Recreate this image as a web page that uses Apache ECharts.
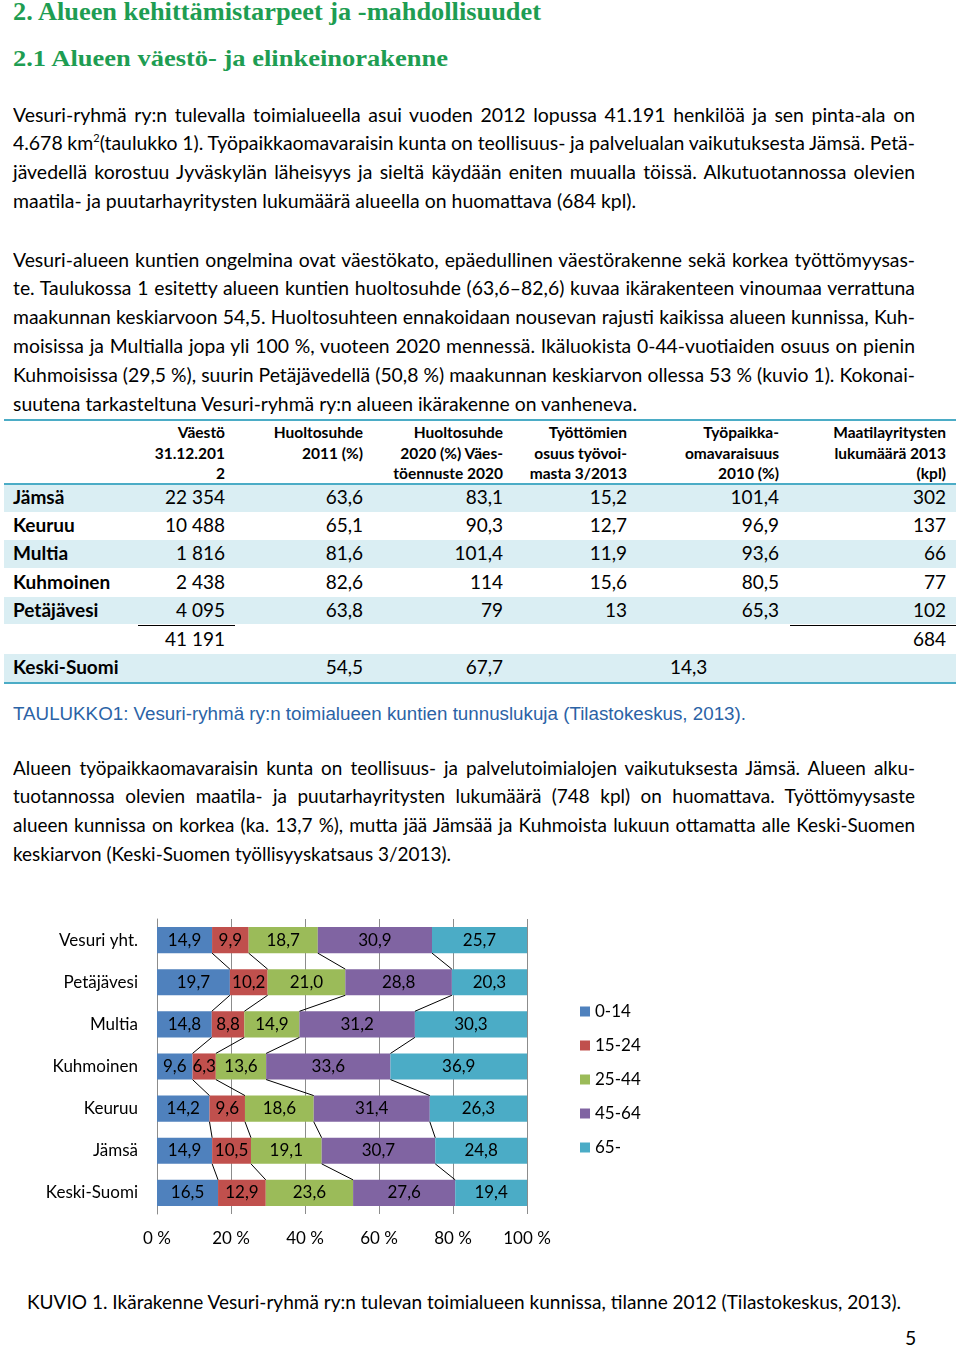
<!DOCTYPE html>
<html><head><meta charset="utf-8">
<script src="https://cdn.jsdelivr.net/npm/echarts@6/dist/echarts.min.js"></script>
<style>
html,body{margin:0;padding:0;background:#fff}
body{width:960px;height:1345px;position:relative;overflow:hidden;font-family:Lato,"Open Sans",sans-serif;color:#000}
.ln{position:absolute;white-space:nowrap;transform-origin:0 50%;font-size:19.4px;line-height:29px;height:29px}
.ln sup{font-size:11px;line-height:0;vertical-align:8px}
.h{position:absolute;white-space:nowrap;transform-origin:0 50%;font-family:"Liberation Serif","DejaVu Serif",serif;font-weight:bold;color:#1e9d52}
.cell{position:absolute;white-space:nowrap;font-size:19px;line-height:28px;height:28px}
.hd{position:absolute;white-space:nowrap;font-size:15.5px;font-weight:bold;line-height:20.5px;text-align:right}
.band{position:absolute;left:4px;width:952px;background:#daeef3}
.rule{position:absolute;background:#4bacc6}
.thin{position:absolute;height:1px;background:#000}
#chart{position:absolute;left:0;top:900px;width:960px;height:370px}
</style></head>
<body>
<div id="chart"></div>
<script>
// ---------- chart data ----------
const categories = ['Vesuri yht.','Petäjävesi','Multia','Kuhmoinen','Keuruu','Jämsä','Keski-Suomi'];
const ageGroups = ['0-14','15-24','25-44','45-64','65-'];
const age0_14  = [14.9, 19.7, 14.8, 9.6, 14.2, 14.9, 16.5];
const age15_24 = [9.9, 10.2, 8.8, 6.3, 9.6, 10.5, 12.9];
const age25_44 = [18.7, 21.0, 14.9, 13.6, 18.6, 19.1, 23.6];
const age45_64 = [30.9, 28.8, 31.2, 33.6, 31.4, 30.7, 27.6];
const age65    = [25.7, 20.3, 30.3, 36.9, 26.3, 24.8, 19.4];
const xTicks = [0, 20, 40, 60, 80, 100];

// ---------- table data ----------
const tableRows = ['Jämsä','Keuruu','Multia','Kuhmoinen','Petäjävesi'];
const vaesto = ['22 354','10 488','1 816','2 438','4 095'];
const huolto2011 = ['63,6','65,1','81,6','82,6','63,8'];
const huolto2020 = ['83,1','90,3','101,4','114','79'];
const tyottomat = ['15,2','12,7','11,9','15,6','13'];
const omavaraisuus = ['101,4','96,9','93,6','80,5','65,3'];
const maatilat = ['302','137','66','77','102'];
const vaestoYht = '41 191';
const maatilatYht = '684';
const keskiSuomiLabel = 'Keski-Suomi';
const keskiSuomi = ['54,5','67,7','14,3'];
const tableHeaders = [
  ['Väestö','31.12.201','2'],
  ['Huoltosuhde','2011 (%)'],
  ['Huoltosuhde','2020 (%) Väes-','töennuste 2020'],
  ['Työttömien','osuus työvoi-','masta 3/2013'],
  ['Työpaikka-','omavaraisuus','2010 (%)'],
  ['Maatilayritysten','lukumäärä 2013','(kpl)']
];

// ---------- text ----------
const heading1 = '2. Alueen kehittämistarpeet ja -mahdollisuudet';
const heading2 = '2.1 Alueen väestö- ja elinkeinorakenne';
const para1 = [
 'Vesuri-ryhmä ry:n tulevalla toimialueella asui vuoden 2012 lopussa 41.191 henkilöä ja sen pinta-ala on',
 '4.678 km<sup>2</sup>(taulukko 1). Työpaikkaomavaraisin kunta on teollisuus- ja palvelualan vaikutuksesta Jämsä. Petä-',
 'jävedellä korostuu Jyväskylän läheisyys ja sieltä käydään eniten muualla töissä. Alkutuotannossa olevien',
 'maatila- ja puutarhayritysten lukumäärä alueella on huomattava (684 kpl).'
];
const para2 = [
 'Vesuri-alueen kuntien ongelmina ovat väestökato, epäedullinen väestörakenne sekä korkea työttömyysas-',
 'te. Taulukossa 1 esitetty alueen kuntien huoltosuhde (63,6–82,6) kuvaa ikärakenteen vinoumaa verrattuna',
 'maakunnan keskiarvoon 54,5. Huoltosuhteen ennakoidaan nousevan rajusti kaikissa alueen kunnissa, Kuh-',
 'moisissa ja Multialla jopa yli 100 %, vuoteen 2020 mennessä. Ikäluokista 0-44-vuotiaiden osuus on pienin',
 'Kuhmoisissa (29,5 %), suurin Petäjävedellä (50,8 %) maakunnan keskiarvon ollessa 53 % (kuvio 1). Kokonai-',
 'suutena tarkasteltuna Vesuri-ryhmä ry:n alueen ikärakenne on vanheneva.'
];
const para3 = [
 'Alueen työpaikkaomavaraisin kunta on teollisuus- ja palvelutoimialojen vaikutuksesta Jämsä. Alueen alku-',
 'tuotannossa olevien maatila- ja puutarhayritysten lukumäärä (748 kpl) on huomattava. Työttömyysaste',
 'alueen kunnissa on korkea (ka. 13,7 %), mutta jää Jämsää ja Kuhmoista lukuun ottamatta alle Keski-Suomen',
 'keskiarvon (Keski-Suomen työllisyyskatsaus 3/2013).'
];
const tableCaption = 'TAULUKKO1: Vesuri-ryhmä ry:n toimialueen kuntien tunnuslukuja (Tilastokeskus, 2013).';
const figCaption = 'KUVIO 1. Ikärakenne Vesuri-ryhmä ry:n tulevan toimialueen kunnissa, tilanne 2012 (Tilastokeskus, 2013).';
const pageNo = '5';

// ---------- layout helpers ----------
function mk(cls, html, x, y) {
  const d = document.createElement('div');
  d.className = cls; d.innerHTML = html;
  d.style.left = x + 'px'; d.style.top = y + 'px';
  document.body.appendChild(d);
  return d;
}
function paragraph(lines, x, firstCy, step, W, lastW) {
  const els = lines.map((t, i) => mk('ln', t, x, firstCy + i * step - 14.5));
  const widths = els.map(e => e.getBoundingClientRect().width);
  const last = els.length - 1;
  const K = lastW / widths[last];
  els.forEach((e, i) => {
    const target = (i === last ? lastW : W);
    const gaps = (e.textContent.match(/ /g) || []).length;
    let k = K;
    let ws = gaps ? (target / k - widths[i]) / gaps : 0;
    if (ws < -1.5) { k = target / (widths[i] - 1.5 * gaps); ws = -1.5; }
    e.style.wordSpacing = ws + 'px';
    e.style.transform = 'scaleX(' + k + ')';
  });
}
function fitText(cls, text, x, cy, W, size, extra) {
  const d = mk(cls, text, x, 0);
  d.style.fontSize = size + 'px';
  d.style.lineHeight = size * 1.3 + 'px';
  if (extra) Object.assign(d.style, extra);
  d.style.top = (cy - size * 0.65) + 'px';
  d.style.transformOrigin = '0 50%';
  const w = d.getBoundingClientRect().width;
  d.style.transform = 'scaleX(' + (W / w) + ')';
  return d;
}

// headings
fitText('h', heading1, 13, 12, 528, 25.5);
fitText('h', heading2, 13, 59, 435, 23);

paragraph(para1, 13, 114, 28.9, 902, 623);
paragraph(para2, 13, 259, 28.9, 902, 624);
paragraph(para3, 13, 767, 28.7, 902, 438);

// ---------- table ----------
const colRight = [225, 363, 503, 627, 779, 946];
const rowCy = [497, 525, 553, 582, 610, 639, 667];
[[483,512],[540,568],[597,624],[654,682]].forEach(b => {
  const d = mk('band', '', 4, b[0]); d.style.height = (b[1] - b[0]) + 'px';
});
[[419,2],[483,2],[682,2]].forEach(r => {
  const d = mk('rule', '', 4, r[0]); d.style.width = '952px'; d.style.height = r[1] + 'px';
});
tableHeaders.forEach((lines, c) => {
  const d = mk('hd', lines.join('<br>'), 0, 422);
  d.style.left = 'auto'; d.style.right = (960 - colRight[c]) + 'px';
});
function cellR(text, c, cy, bold) {
  const d = mk('cell', text, 0, cy - 14);
  d.style.left = 'auto'; d.style.right = (960 - colRight[c]) + 'px';
  if (bold) d.style.fontWeight = 'bold';
}
const cols = [vaesto, huolto2011, huolto2020, tyottomat, omavaraisuus, maatilat];
tableRows.forEach((name, r) => {
  const d = mk('cell', name, 13, rowCy[r] - 14); d.style.fontWeight = 'bold';
  cols.forEach((arr, c) => cellR(arr[r], c, rowCy[r]));
});
cellR(vaestoYht, 0, rowCy[5]);
cellR(maatilatYht, 5, rowCy[5]);
{ const d = mk('cell', keskiSuomiLabel, 13, rowCy[6] - 14); d.style.fontWeight = 'bold'; }
cellR(keskiSuomi[0], 1, rowCy[6]);
cellR(keskiSuomi[1], 2, rowCy[6]);
mk('cell', keskiSuomi[2], 670, rowCy[6] - 14);
{ const a = mk('thin', '', 138, 625); a.style.width = '97px';
  const b = mk('thin', '', 790, 625); b.style.width = '166px'; }

// captions
fitText('ln', tableCaption, 13, 714, 733, 17.5, {fontFamily:'"Liberation Sans",Arial,sans-serif', color:'#2b63a6', height:'auto'});
fitText('ln', figCaption, 27, 1302, 874, 19.4, {height:'auto'});
{ const d = mk('ln', pageNo, 905, 1337 - 14.5); }

// ---------- chart ----------
const ageSeries = [age0_14, age15_24, age25_44, age45_64, age65];
const ageColors = ['#4f81bd', '#c0504d', '#9bbb59', '#8064a2', '#4bacc6'];
const rowSums = categories.map((_, i) => ageSeries.reduce((s, a) => s + a[i], 0));
const norm = ageSeries.map(a => a.map((v, i) => v / rowSums[i] * 100));
const cum = [];
for (let k = 1; k < ageSeries.length; k++) {
  cum.push(categories.map((_, i) => norm.slice(0, k).reduce((s, a) => s + a[i], 0)));
}
const seriesLineData = [];
for (let i = 0; i < categories.length - 1; i++) {
  cum.forEach(c => seriesLineData.push([c[i], i, c[i + 1], i + 1]));
}
const fmt = v => v.toFixed(1).replace('.', ',');
const GAP = 0.38;

const chart = echarts.init(document.getElementById('chart'), null, {renderer: 'canvas'});
chart.setOption({
  animation: false,
  textStyle: {fontFamily: 'Lato'},
  grid: {left: 157, top: 19, width: 370, height: 295, containLabel: false},
  legend: {
    orient: 'vertical', left: 575, top: 98,
    itemWidth: 10, itemHeight: 10, itemGap: 17, icon: 'rect',
    textStyle: {fontSize: 17, color: '#000', lineHeight: 17, fontFamily: 'Lato'},
    data: ageGroups
  },
  xAxis: {
    type: 'value', min: 0, max: 100, interval: 20,
    axisLine: {show: false}, axisTick: {show: false},
    splitLine: {show: true, lineStyle: {color: '#8c8c8c', width: 1}},
    axisLabel: {formatter: v => v + ' %', fontSize: 17, color: '#000', margin: 16, fontFamily: 'Lato'}
  },
  yAxis: {
    type: 'category', data: categories, inverse: true,
    axisLine: {show: true, lineStyle: {color: '#8c8c8c', width: 1}},
    axisTick: {show: false},
    axisLabel: {fontSize: 17, color: '#000', margin: 19, fontFamily: 'Lato'}
  },
  series: ageGroups.map((name, s) => ({
    name, type: 'bar', stack: 'total', barCategoryGap: (GAP * 100) + '%',
    itemStyle: {color: ageColors[s]},
    label: {
      show: true, position: 'inside', color: '#000', fontSize: 17, fontFamily: 'Lato',
      formatter: p => fmt(ageSeries[s][p.dataIndex])
    },
    data: norm[s]
  })).concat([{
    type: 'custom', name: 'seriesLines', silent: true, z: 5,
    encode: {x: [0, 2], y: [1, 3]},
    renderItem: (params, api) => {
      const p1 = api.coord([api.value(0), api.value(1)]);
      const p2 = api.coord([api.value(2), api.value(3)]);
      const half = api.size([0, 1])[1] * (1 - GAP) / 2;
      return {type: 'line', shape: {x1: p1[0], y1: p1[1] + half, x2: p2[0], y2: p2[1] - half},
              style: {stroke: '#000', lineWidth: 1}};
    },
    data: seriesLineData
  }])
});
</script>
</body></html>
